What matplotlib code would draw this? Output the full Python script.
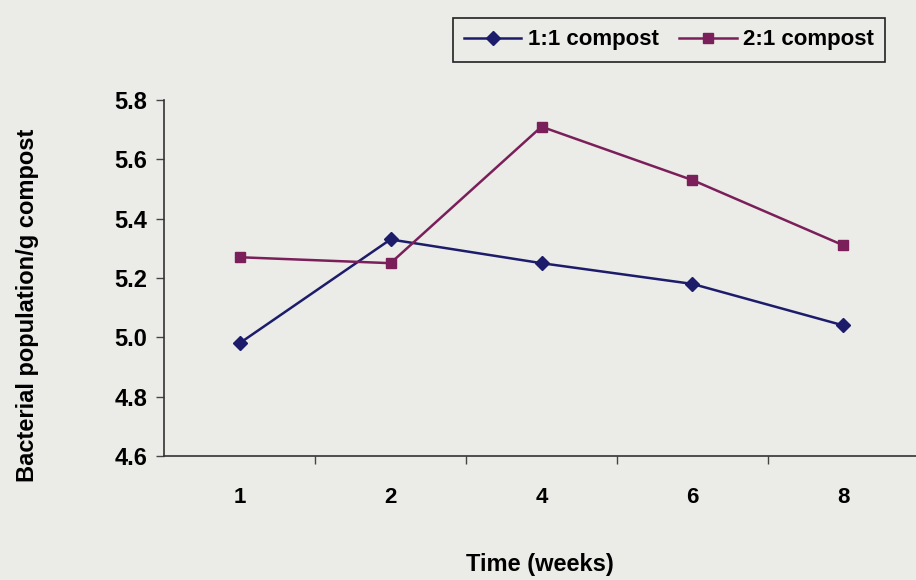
import matplotlib.pyplot as plt
from matplotlib.ticker import FixedLocator

weeks = ["1", "2", "4", "6", "8"]
compost_1_1 = [4.98, 5.33, 5.25, 5.18, 5.04]
compost_2_1 = [5.27, 5.25, 5.71, 5.53, 5.31]
y_ticks = [4.6, 4.8, 5.0, 5.2, 5.4, 5.6, 5.8]

plt.rcParams["font.family"] = ["Liberation Sans", "DejaVu Sans"]
bg = "#ebebe8"

fig = plt.figure(figsize=(9.16, 5.8), dpi=100, facecolor=bg)
ax = fig.add_axes([164 / 916, 1 - 456 / 580, 755 / 916, 356 / 580])
ax.set_facecolor(bg)

x = list(range(len(weeks)))
ax.plot(x, compost_1_1, color="#1c1c6b", marker="D", markersize=7,
        linewidth=1.8, label="1:1 compost")
ax.plot(x, compost_2_1, color="#7a1f5a", marker="s", markersize=7,
        linewidth=1.8, label="2:1 compost")

ax.set_xlim(-0.5, len(weeks) - 0.5)
ax.set_ylim(4.6, 5.8)
ax.set_yticks(y_ticks)
ax.set_yticklabels([f"{v:.1f}" for v in y_ticks], fontsize=17, fontweight="bold")
ax.set_xticks(x)
ax.set_xticklabels(weeks, fontsize=16, fontweight="bold")
ax.tick_params(axis="x", which="major", length=0, pad=22)
ax.xaxis.set_minor_locator(FixedLocator([i + 0.5 for i in x[:-1]]))
ax.tick_params(axis="x", which="minor", length=6, width=1, color="#444444")
ax.tick_params(axis="y", length=6, width=1, color="#444444", pad=6)

for side in ["top", "right"]:
    ax.spines[side].set_visible(False)
for side in ["left", "bottom"]:
    ax.spines[side].set_color("#333333")
    ax.spines[side].set_linewidth(1.2)

fig.text(28 / 916, 1 - 305 / 580, "Bacterial population/g compost",
         rotation=90, ha="center", va="center", fontsize=17, fontweight="bold")
fig.text(540 / 916, 1 - 564 / 580, "Time (weeks)", ha="center", va="center",
         fontsize=17, fontweight="bold")

leg = fig.legend(loc="center", bbox_to_anchor=(669 / 916, 1 - 40 / 580), ncol=2,
                 frameon=True, fancybox=False, edgecolor="#222222",
                 facecolor=bg, framealpha=1, handlelength=2.6,
                 columnspacing=0.9, handletextpad=0.3, borderpad=0.5,
                 prop={"size": 16, "weight": "bold"})
leg.get_frame().set_linewidth(1.2)

fig.savefig("out.png", dpi=100, facecolor=bg)
plt.close(fig)
